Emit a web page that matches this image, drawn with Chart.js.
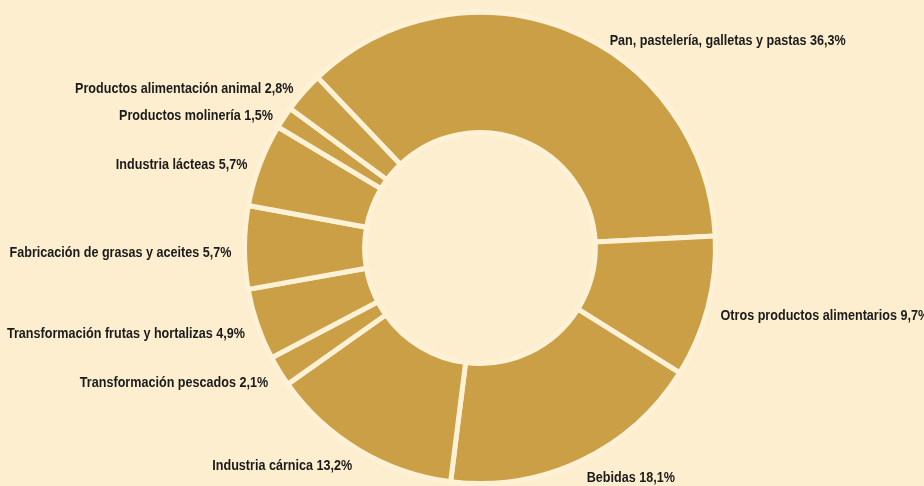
<!DOCTYPE html>
<html>
<head>
<meta charset="utf-8">
<script src="https://cdn.jsdelivr.net/npm/chart.js@4/dist/chart.umd.min.js"></script>
<style>
    html, body { margin: 0; padding: 0; background: #fdeecf; }
    #wrap { width: 924px; height: 486px; position: relative; }
</style>
</head>
<body>
<div id="wrap"><canvas id="sectores"></canvas></div>
<script>
// Sectores de la industria alimentaria (%)
const categories = [
    'Pan, pastelería, galletas y pastas',
    'Otros productos alimentarios',
    'Bebidas',
    'Industria cárnica',
    'Transformación pescados',
    'Transformación frutas y hortalizas',
    'Fabricación de grasas y aceites',
    'Industria lácteas',
    'Productos molinería',
    'Productos alimentación animal'
];
const shares = [36.3, 9.7, 18.1, 13.2, 2.1, 4.9, 5.7, 5.7, 1.5, 2.8];

const sliceColor = '#cb9f46';
const gapColor = '#fff1d6';

// Labels outside each slice, at its mid angle (condensed bold text)
const outsideLabels = {
    id: 'outsideLabels',
    afterDatasetsDraw(chart) {
        const ctx = chart.ctx;
        const meta = chart.getDatasetMeta(0);
        const topLimit = 36; // keep labels clear of the top edge
        ctx.save();
        ctx.font = 'bold 15px "Liberation Sans", sans-serif';
        ctx.fillStyle = '#1b1b1b';
        ctx.textBaseline = 'middle';
        meta.data.forEach((arc, i) => {
            const p = arc.getProps(['x', 'y', 'startAngle', 'endAngle', 'outerRadius'], true);
            const mid = (p.startAngle + p.endAngle) / 2;
            const r = p.outerRadius + 13;
            let x = p.x + Math.cos(mid) * r;
            let y = p.y + Math.sin(mid) * r;
            if (y < topLimit) {
                // slide along the label circle until it is low enough
                const dy = topLimit - p.y;
                const dx = Math.sqrt(r * r - dy * dy);
                x = p.x + (Math.cos(mid) >= 0 ? dx : -dx);
                y = topLimit;
            }
            const text = categories[i] + ' ' + shares[i].toFixed(1).replace('.', ',') + '%';
            ctx.save();
            ctx.translate(x, y + 5);
            ctx.scale(0.84, 1);
            ctx.textAlign = Math.cos(mid) >= 0 ? 'left' : 'right';
            ctx.fillText(text, 0, 0);
            ctx.restore();
        });
        ctx.restore();
    }
};

const ctx = document.getElementById('sectores').getContext('2d');
new Chart(ctx, {
    type: 'doughnut',
    data: {
        labels: categories,
        datasets: [{
            data: shares,
            backgroundColor: sliceColor,
            borderColor: gapColor,
            borderWidth: 5,
            hoverOffset: 0,
        }]
    },
    options: {
        responsive: true,
        maintainAspectRatio: false,
        animation: false,
        rotation: -43.6,
        radius: 235.5,
        cutout: '49%',
        layout: {
            padding: { left: 36, right: 0, top: 10, bottom: 0 },
        },
        plugins: {
            legend: { display: false },
            tooltip: { enabled: false },
        },
    },
    plugins: [outsideLabels]
});
</script>
</body>
</html>
